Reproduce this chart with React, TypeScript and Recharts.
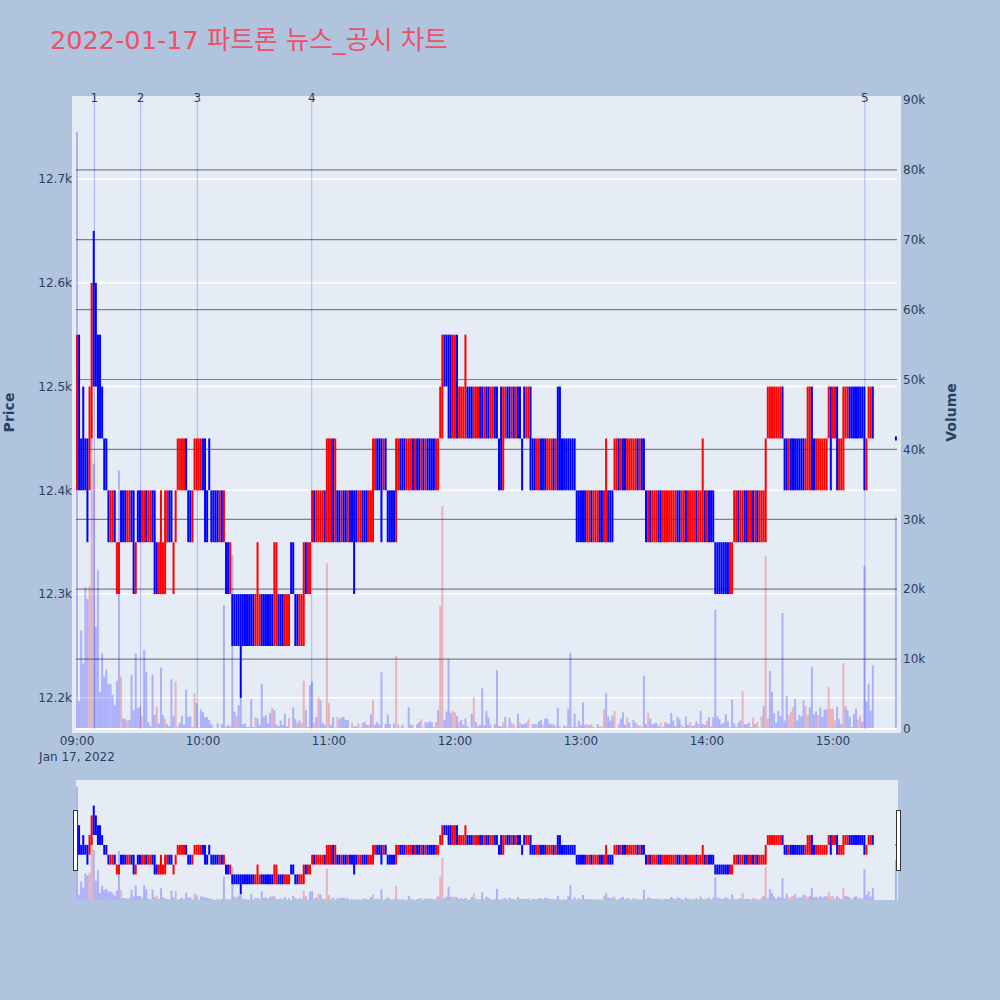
import React from 'react';
import {
  ComposedChart, Bar, Cell, XAxis, YAxis, CartesianGrid, ReferenceLine
} from 'recharts';

// one row per 10 minutes, index = minutes after 09:00
const lows: (number | null)[] = [
  12400, 12400, 12400, 12400, 12400, 12350, 12400, 12450, 12500, 12500,
  12450, 12450, 12450, 12400, 12400, 12350, 12350, 12350, 12350, 12300,
  12300, 12350, 12350, 12350, 12350, 12350, 12350, 12300, 12300, 12350,
  12350, 12350, 12350, 12350, 12350, 12350, 12350, 12300, 12300, 12300,
  12300, 12300, 12300, 12350, 12350, 12350, 12300, 12350, 12400, 12400,
  12400, 12400, 12400, 12350, 12350, 12350, 12400, 12400, 12400, 12400,
  12400, 12350, 12350, 12400, 12350, 12350, 12350, 12350, 12350, 12350,
  12350, 12300, 12300, 12300, 12250, 12250, 12250, 12250, 12200, 12250,
  12250, 12250, 12250, 12250, 12250, 12250, 12250, 12250, 12250, 12250,
  12250, 12250, 12250, 12250, 12250, 12250, 12250, 12250, 12250, 12250,
  12250, 12250, 12300, 12300, 12250, 12250, 12250, 12250, 12250, 12300,
  12300, 12300, 12350, 12350, 12350, 12350, 12350, 12350, 12350, 12350,
  12350, 12350, 12350, 12350, 12350, 12350, 12350, 12350, 12350, 12350,
  12350, 12350, 12300, 12350, 12350, 12350, 12350, 12350, 12350, 12350,
  12350, 12350, 12400, 12400, 12400, 12350, 12400, 12400, 12350, 12350,
  12350, 12350, 12350, 12400, 12400, 12400, 12400, 12400, 12400, 12400,
  12400, 12400, 12400, 12400, 12400, 12400, 12400, 12400, 12400, 12400,
  12400, 12400, 12400, 12450, 12450, 12500, 12500, 12450, 12450, 12450,
  12450, 12450, 12450, 12450, 12450, 12450, 12450, 12450, 12450, 12450,
  12450, 12450, 12450, 12450, 12450, 12450, 12450, 12450, 12450, 12450,
  12450, 12400, 12400, 12400, 12450, 12450, 12450, 12450, 12450, 12450,
  12450, 12450, 12400, 12450, 12450, 12450, 12400, 12400, 12400, 12400,
  12400, 12400, 12400, 12400, 12400, 12400, 12400, 12400, 12400, 12400,
  12400, 12400, 12400, 12400, 12400, 12400, 12400, 12400, 12350, 12350,
  12350, 12350, 12350, 12350, 12350, 12350, 12350, 12350, 12350, 12350,
  12350, 12350, 12350, 12350, 12350, 12350, 12400, 12400, 12400, 12400,
  12400, 12400, 12400, 12400, 12400, 12400, 12400, 12400, 12400, 12400,
  12400, 12350, 12350, 12350, 12350, 12350, 12350, 12350, 12350, 12350,
  12350, 12350, 12350, 12350, 12350, 12350, 12350, 12350, 12350, 12350,
  12350, 12350, 12350, 12350, 12350, 12350, 12350, 12350, 12350, 12350,
  12350, 12350, 12350, 12350, 12300, 12300, 12300, 12300, 12300, 12300,
  12300, 12300, 12300, 12350, 12350, 12350, 12350, 12350, 12350, 12350,
  12350, 12350, 12350, 12350, 12350, 12350, 12350, 12350, 12350, 12450,
  12450, 12450, 12450, 12450, 12450, 12450, 12450, 12400, 12400, 12400,
  12400, 12400, 12400, 12400, 12400, 12400, 12400, 12400, 12400, 12400,
  12400, 12400, 12400, 12400, 12400, 12400, 12400, 12400, 12450, 12400,
  12450, 12450, 12400, 12400, 12400, 12400, 12450, 12450, 12450, 12450,
  12450, 12450, 12450, 12450, 12450, 12400, 12400, 12450, 12450, 12450,
  null, null, null, null, null, null, null, null, null, null,
  12448,
];

const highs: (number | null)[] = [
  12550, 12550, 12450, 12500, 12450, 12450, 12500, 12600, 12650, 12600,
  12550, 12550, 12500, 12450, 12450, 12400, 12400, 12400, 12400, 12350,
  12350, 12400, 12400, 12400, 12400, 12400, 12400, 12400, 12350, 12400,
  12400, 12400, 12400, 12400, 12400, 12400, 12400, 12400, 12350, 12350,
  12400, 12350, 12400, 12400, 12400, 12400, 12350, 12400, 12450, 12450,
  12450, 12450, 12450, 12400, 12400, 12400, 12450, 12450, 12450, 12450,
  12450, 12450, 12400, 12450, 12400, 12400, 12400, 12400, 12400, 12400,
  12400, 12350, 12350, 12350, 12300, 12300, 12300, 12300, 12300, 12300,
  12300, 12300, 12300, 12300, 12300, 12300, 12350, 12300, 12300, 12300,
  12300, 12300, 12300, 12300, 12350, 12350, 12300, 12300, 12300, 12300,
  12300, 12300, 12350, 12350, 12300, 12300, 12300, 12300, 12350, 12350,
  12350, 12350, 12400, 12400, 12400, 12400, 12400, 12400, 12400, 12450,
  12450, 12450, 12450, 12450, 12400, 12400, 12400, 12400, 12400, 12400,
  12400, 12400, 12400, 12400, 12400, 12400, 12400, 12400, 12400, 12400,
  12400, 12450, 12450, 12450, 12450, 12450, 12450, 12450, 12400, 12400,
  12400, 12400, 12450, 12450, 12450, 12450, 12450, 12450, 12450, 12450,
  12450, 12450, 12450, 12450, 12450, 12450, 12450, 12450, 12450, 12450,
  12450, 12450, 12450, 12500, 12550, 12550, 12550, 12550, 12550, 12550,
  12550, 12550, 12500, 12500, 12500, 12550, 12500, 12500, 12500, 12500,
  12500, 12500, 12500, 12500, 12500, 12500, 12500, 12500, 12500, 12500,
  12500, 12450, 12500, 12500, 12500, 12500, 12500, 12500, 12500, 12500,
  12500, 12500, 12450, 12500, 12500, 12500, 12500, 12450, 12450, 12450,
  12450, 12450, 12450, 12450, 12450, 12450, 12450, 12450, 12450, 12500,
  12500, 12450, 12450, 12450, 12450, 12450, 12450, 12450, 12400, 12400,
  12400, 12400, 12400, 12400, 12400, 12400, 12400, 12400, 12400, 12400,
  12400, 12400, 12450, 12400, 12400, 12400, 12450, 12450, 12450, 12450,
  12450, 12450, 12450, 12450, 12450, 12450, 12450, 12450, 12450, 12450,
  12450, 12400, 12400, 12400, 12400, 12400, 12400, 12400, 12400, 12400,
  12400, 12400, 12400, 12400, 12400, 12400, 12400, 12400, 12400, 12400,
  12400, 12400, 12400, 12400, 12400, 12400, 12400, 12400, 12450, 12400,
  12400, 12400, 12400, 12400, 12350, 12350, 12350, 12350, 12350, 12350,
  12350, 12350, 12350, 12400, 12400, 12400, 12400, 12400, 12400, 12400,
  12400, 12400, 12400, 12400, 12400, 12400, 12400, 12400, 12450, 12500,
  12500, 12500, 12500, 12500, 12500, 12500, 12500, 12450, 12450, 12450,
  12450, 12450, 12450, 12450, 12450, 12450, 12450, 12450, 12500, 12500,
  12500, 12450, 12450, 12450, 12450, 12450, 12450, 12450, 12500, 12500,
  12500, 12500, 12500, 12450, 12450, 12500, 12500, 12500, 12500, 12500,
  12500, 12500, 12500, 12500, 12500, 12500, 12450, 12500, 12500, 12500,
  null, null, null, null, null, null, null, null, null, null,
  12452,
];

// R = price rose in that minute, B = price fell
const directions = [
  'RBBBBBRRBB', 'BBBBBBRRBR', 'RBBBRRBBRB', 'BRRBRRBBBR', 'RRRRBBRRRR',
  'RRBBBRRRRR', 'BBBBBBBBRB', 'RBBRBBBBBB', 'BBBBBRRRBB', 'BBBBRRBBBR',
  'RRBBBBRRRB', 'RRRBRRRRBR', 'RRBRBBRBBR', 'BBBBRRBBBR', 'RRRBBBRBBB',
  'BBRRBBBRRR', 'BRBBRBRBBB', 'BRRRRBBBBR', 'RBRRRRBBBR', 'RRBBRBBRRB',
  'BBBRRBBRBR', 'BBBBRRBBBR', 'RBBBRRRBRB', 'BBBBBBBBBB', 'BBBRRBRRRB',
  'BRRBBBRRBR', 'BBRRRRRBRB', 'BBRBRRRBBR', 'RRRRRRBBRR', 'BRRRRBRRRB',
  'RBBBBBBBBB', 'BRRRRBRRBB', 'RRBRBRRRRR', 'RRRRRRBBBR', 'BBBBBBBRRR',
  'BBRRRRRRRB', 'RRBRRRRRBB', 'BBBBBBRRRB', 'BBBBBBBBBB', 'B',
].join('');

// thousands of shares
const volumes = [
  85.4, 4, 14.1, 9.4, 20.3, 18.6, 20.5, 45, 38, 14.6,
  22.7, 5.3, 10.8, 7.5, 8.5, 6.4, 6.4, 4.9, 3.4, 6.9,
  37, 7.5, 1.5, 1.4, 1.2, 1.3, 7.7, 2.7, 10.8, 3,
  3.2, 1.8, 11.3, 8.2, 1, 0.4, 7.8, 2, 3.2, 0.8,
  8.8, 2, 1.4, 0.7, 0.4, 7.1, 1.9, 6.8, 0.4, 0.9,
  1.8, 0.6, 5.6, 1.7, 1.8, 0.3, 5.1, 3.7, 0.2, 2.8,
  2.4, 1.7, 1.7, 1.3, 0.7, 0.2, 0.1, 0.8, 0.1, 0.7,
  17.7, 0.3, 0.6, 0.4, 24.9, 2.5, 1.9, 3.4, 4.6, 0.7,
  0.8, 0.3, 0.3, 4.3, 0.3, 1.7, 1.5, 0.6, 6.5, 1.7,
  2, 0.8, 2.3, 3, 2.7, 0.6, 0.4, 1.2, 0.6, 2.2,
  0.4, 1.6, 0.1, 3.1, 1.4, 0.9, 1.2, 0.9, 6.9, 2.7,
  0.3, 6.3, 6.8, 0.9, 1.7, 4.6, 4.1, 0.9, 0.6, 23.7,
  3.7, 0.6, 1.7, 0.2, 1.7, 1.4, 1.7, 1.7, 1.3, 1.3,
  0.1, 0.9, 0.4, 0.4, 0.8, 0.2, 0.9, 1, 0.6, 0.6,
  2.1, 4.1, 0.6, 1, 0.6, 8.1, 0.1, 0.7, 2.1, 0.7,
  0.1, 0.8, 10.5, 0.7, 0.2, 0.6, 0.2, 0.1, 3.1, 0.6,
  0.6, 0.05, 0.7, 1, 1.4, 0.2, 1, 0.9, 1.1, 1,
  0.3, 1, 2.7, 17.6, 31.9, 1.3, 2.5, 10, 2.3, 2.6,
  2.4, 1.9, 1, 1.3, 0.6, 1.5, 0.4, 0.05, 2.2, 4.6,
  1, 0.4, 0.6, 5.8, 0.5, 2.6, 1.6, 0.6, 0.05, 0.7,
  8.4, 0.4, 0.4, 1, 1.7, 0.2, 1.6, 0.9, 0.7, 0.2,
  2.2, 0.9, 0.7, 0.7, 0.9, 1.4, 0.1, 0.7, 0.7, 0.7,
  1.1, 1.3, 0.6, 1.5, 1.5, 0.8, 0.7, 0.6, 0.4, 3,
  0.4, 0.1, 0.5, 0.3, 2.9, 10.9, 0.3, 2.2, 0.3, 1.2,
  0.6, 3.8, 0.6, 0.7, 0.5, 0.7, 0.3, 0.1, 0.7, 0.3,
  0.4, 2.8, 5.1, 1.8, 1.2, 1.9, 2.6, 0.1, 0.7, 1.5,
  2.4, 0.6, 1.7, 0.9, 0.2, 1.3, 0.9, 0.6, 0.5, 0.4,
  7.6, 0.7, 2.3, 1.5, 0.7, 0.8, 0.9, 0.4, 0.9, 0.3,
  1, 0.8, 0.7, 2.3, 1.2, 0.4, 1.7, 1.4, 0.6, 0.3,
  1.8, 0.6, 1, 0.4, 0.5, 1.1, 0.7, 2.6, 0.7, 0.6,
  1.2, 1.7, 0.4, 1.7, 17.1, 1.8, 1.4, 0.7, 0.9, 2.1,
  1.1, 0.3, 4.2, 0.8, 0.3, 0.9, 1.2, 5.4, 0.7, 0.7,
  0.9, 0.3, 1.6, 0.7, 1, 0.2, 1.8, 3.3, 24.7, 1.5,
  8.3, 5.3, 2.3, 0.9, 2.6, 1.8, 16.6, 1.2, 4.7, 2,
  2.5, 3.1, 4.3, 1.2, 2, 1.8, 4.1, 3.3, 2, 3.1,
  8.9, 2.1, 2.5, 2, 3.1, 1.7, 2.8, 2.8, 6, 2.9,
  2.9, 1.2, 3.2, 1.4, 0.7, 9.4, 3.2, 2.7, 1.8, 0.3,
  2.1, 2.9, 1.4, 1.9, 1, 23.3, 3.9, 6.5, 2.6, 9.1,
  0, 0, 0, 0, 0, 0, 0, 0, 0, 0,
  30.3,
];

const redVolumeMinutes = [
  6, 7, 21, 24, 31, 38, 42, 47, 48, 56, 73, 76, 85, 93, 101, 105, 107, 108, 113, 115, 119, 120, 124,
  131, 134, 136, 139, 141, 152, 153, 156, 160, 164, 171, 173, 174, 179, 180, 182, 189, 197, 203, 207, 208,
  211, 215, 219, 222, 228, 230, 243, 245, 250, 251, 256, 258, 262, 267, 268, 269, 272, 278, 280, 288, 292,
  296, 300, 302, 311, 314, 317, 321, 322, 324, 326, 328, 329, 339, 340, 341, 347, 348, 353, 358, 359, 360,
  361, 365, 372, 373,
];

const eventMinutes = [8.3, 30.3, 57.3, 111.8, 375.2];
const priceTicks = [12200, 12300, 12400, 12500, 12600, 12700];
const volumeTicks = [0, 10, 20, 30, 40, 50, 60, 70, 80, 90];
const timeTicks = [0, 60, 120, 180, 240, 300, 360];

const table = lows.map((low, i) => ({
  minute: i,
  priceRange: low === null ? null : [low, highs[i]],
  volume: volumes[i],
}));

const X_DOMAIN: [number, number] = [-0.476, 390.5];
const PRICE_DOMAIN: [number, number] = [12170, 12780];
const VOLUME_DOMAIN: [number, number] = [0, 90.56];
const TEXT = '#2a3f5f';
const FONT = '"DejaVu Sans", sans-serif';

const candleColor = (i: number) => (directions[i] === 'R' ? '#ff0000' : '#0000ff');
const volumeColor = (i: number) => (redVolumeMinutes.includes(i) ? 'rgba(255,0,0,0.25)' : 'rgba(0,0,255,0.25)');

function timeLabel(m: number) {
  const h = 9 + m / 60;
  return `${h < 10 ? '0' : ''}${h}:00`;
}

const TimeTick = ({ x, y, payload }: any) => (
  <text x={x} y={y} textAnchor="middle" fill={TEXT} fontSize={12} fontFamily={FONT}>
    <tspan x={x} dy={12}>{timeLabel(payload.value)}</tspan>
    {payload.value === 0 && <tspan x={x} dy={16}>Jan 17, 2022</tspan>}
  </text>
);

const tickStyle = { fontSize: 12, fontFamily: FONT, fill: TEXT };
const titleStyle = { fontSize: 14, fontFamily: FONT, fontWeight: 700, fill: TEXT, textAnchor: 'middle' as const };

export default function App() {
  return (
    <div style={{ position: 'absolute', left: 0, top: 0, width: 1000, height: 1000, background: '#b0c4de', overflow: 'hidden' }}>
      <div style={{
        position: 'absolute', left: 50, top: 23, whiteSpace: 'nowrap', color: '#ef5068', fontSize: 25.6, lineHeight: '34px',
        fontFamily: '"DejaVu Sans", "Noto Sans CJK KR", sans-serif'
      }}>
        2022-01-17 파트론 뉴스_공시 차트
      </div>

      <div style={{ position: 'absolute', left: 72, top: 96, width: 829, height: 637, background: '#e5ecf6' }} />
      <div style={{ position: 'absolute', left: 0, top: 0 }}>
        <ComposedChart width={1000} height={770} data={table} margin={{ top: 96, right: 0, bottom: 0, left: 0 }}>
          <XAxis xAxisId="time" dataKey="minute" type="number" domain={X_DOMAIN} ticks={timeTicks} height={41}
            axisLine={false} tickLine={false} tickSize={0} tickMargin={4} tick={<TimeTick />} allowDataOverflow />
          <XAxis xAxisId="timeVolume" dataKey="minute" type="number" domain={X_DOMAIN} hide allowDataOverflow />
          <YAxis yAxisId="price" orientation="left" width={76} type="number" domain={PRICE_DOMAIN} ticks={priceTicks}
            axisLine={false} tickLine={false} tickSize={0} tickMargin={4} tick={tickStyle} allowDataOverflow
            tickFormatter={(v: number) => `${v / 1000}k`}
            label={{ value: 'Price', angle: -90, position: 'insideLeft', offset: 9, style: titleStyle }} />
          <YAxis yAxisId="volume" orientation="right" width={103} type="number" domain={VOLUME_DOMAIN} ticks={volumeTicks}
            axisLine={false} tickLine={false} tickSize={0} tickMargin={6} tick={tickStyle} allowDataOverflow
            tickFormatter={(v: number) => (v === 0 ? '0' : `${v}k`)}
            label={{ value: 'Volume', angle: -90, position: 'insideRight', offset: 49, style: titleStyle }} />

          <CartesianGrid xAxisId="time" yAxisId="price" vertical={false} stroke="#ffffff" strokeWidth={1.5}
            horizontalValues={priceTicks} />
          <CartesianGrid xAxisId="time" yAxisId="volume" vertical={false} stroke="#7f7f85" strokeWidth={1.2}
            horizontalValues={volumeTicks.slice(1, 9)} />
          <ReferenceLine xAxisId="time" yAxisId="volume" y={0} stroke="#ffffff" strokeWidth={2} />

          {eventMinutes.map((m, i) => (
            <ReferenceLine key={m} xAxisId="time" yAxisId="price" x={m} stroke="#0000ff" strokeOpacity={0.25} strokeWidth={1}
              label={{ value: String(i + 1), position: 'insideTop', offset: -3, fill: TEXT, fontSize: 12, fontFamily: FONT }} />
          ))}

          <Bar xAxisId="timeVolume" yAxisId="volume" dataKey="volume" barSize={2} isAnimationActive={false}>
            {table.map((d) => <Cell key={d.minute} fill={volumeColor(d.minute)} />)}
          </Bar>
          <Bar xAxisId="time" yAxisId="price" dataKey="priceRange" barSize={2} isAnimationActive={false}>
            {table.map((d) => <Cell key={d.minute} fill={candleColor(d.minute)} />)}
          </Bar>
        </ComposedChart>
      </div>

      <div style={{ position: 'absolute', left: 76, top: 780, width: 822, height: 120, background: '#e5ecf6' }} />
      <div style={{ position: 'absolute', left: 0, top: 780 }}>
        <ComposedChart width={1000} height={120} data={table} margin={{ top: 0, right: 103, bottom: 0, left: 76 }}>
          <XAxis xAxisId="time" dataKey="minute" type="number" domain={X_DOMAIN} hide allowDataOverflow />
          <XAxis xAxisId="timeVolume" dataKey="minute" type="number" domain={X_DOMAIN} hide allowDataOverflow />
          <YAxis yAxisId="price" type="number" domain={PRICE_DOMAIN} hide allowDataOverflow />
          <YAxis yAxisId="volume" type="number" domain={VOLUME_DOMAIN} hide allowDataOverflow />
          <Bar xAxisId="timeVolume" yAxisId="volume" dataKey="volume" barSize={2} isAnimationActive={false}>
            {table.map((d) => <Cell key={d.minute} fill={volumeColor(d.minute)} />)}
          </Bar>
          <Bar xAxisId="time" yAxisId="price" dataKey="priceRange" barSize={2} isAnimationActive={false}>
            {table.map((d) => <Cell key={d.minute} fill={candleColor(d.minute)} />)}
          </Bar>
        </ComposedChart>
      </div>
      <div style={{ position: 'absolute', left: 73, top: 810, width: 3, height: 59, background: '#fff', border: '1px solid #333' }} />
      <div style={{ position: 'absolute', left: 896, top: 810, width: 3, height: 59, background: '#fff', border: '1px solid #333' }} />
    </div>
  );
}
